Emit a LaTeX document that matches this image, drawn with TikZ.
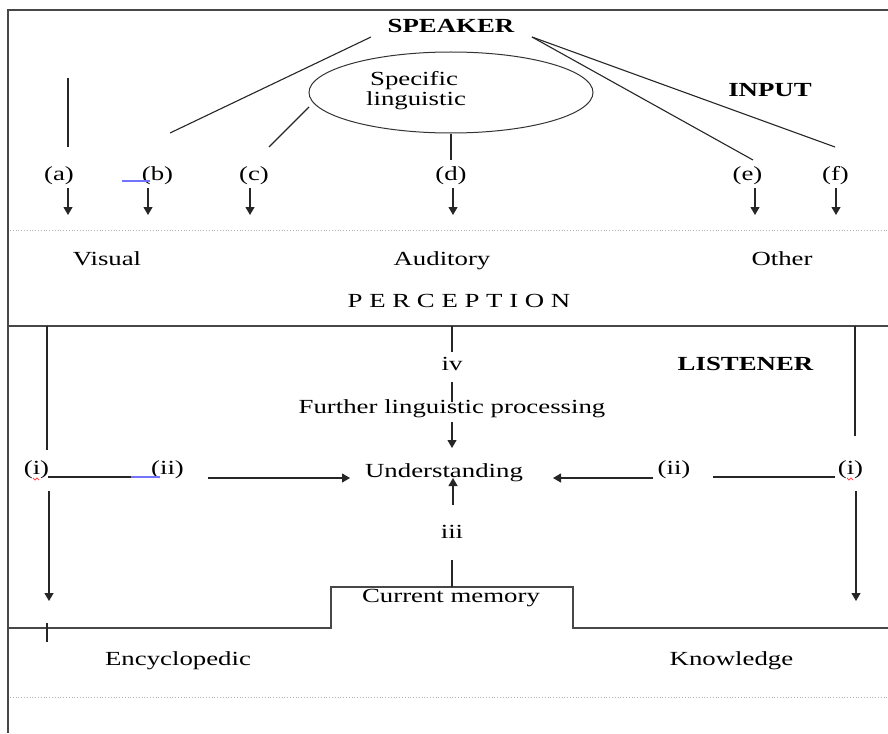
\documentclass[tikz,border=0pt]{standalone}
\usepackage{fontspec}
\setmainfont{Liberation Serif}[FakeStretch=1.34]
\usetikzlibrary{arrows.meta,shapes.geometric}
\begin{document}
\begin{tikzpicture}[x=1pt,y=-1pt,
  line width=1.1pt,
  txt/.style={inner sep=0pt, anchor=base, font=\fontsize{20}{18}\selectfont},
  bld/.style={inner sep=0pt, anchor=base, font=\fontsize{20}{18}\selectfont\bfseries},
  arr/.style={-{Triangle[length=8pt,width=9pt]}},
  frameline/.style={draw=black!72, line width=1.4pt},
  dotline/.style={draw=black!30, dotted, line width=0.8pt},
  conn/.style={draw=black!85, line width=1.1pt},
  bluemark/.style={draw=blue!55!white, line width=1.3pt},
  redmark/.style={draw=red!70, line width=0.8pt}]
\useasboundingbox (0,0) rectangle (888,733);
\fill[white] (0,0) rectangle (888,733);

% frame and separators
\draw[frameline] (888,10) -- (8,10) -- (8,733);
\draw[frameline] (8,326) -- (888,326);
\draw[dotline] (10,230) -- (888,230);
\draw[dotline] (10,697) -- (888,697);
\draw[frameline] (8,628) -- (331,628) -- (331,587) -- (573,587) -- (573,628) -- (888,628);

% top texts
\node[bld] (speaker) at (451,33) {SPEAKER};
\node[bld] (input) at (770,97) {INPUT};
\node[draw=black!80, line width=1pt, ellipse, minimum width=284pt, minimum height=81pt, inner sep=0pt] (ell) at (451,92.5) {};
\node[txt] (spec1) at (414,86) {Specific};
\node[txt] (spec2) at (416,106) {linguistic};

% speaker lines
\coordinate (sl) at (371,37);
\coordinate (sr) at (532,37);
\coordinate (bend) at (170,133);
\coordinate (eend) at (753,160);
\coordinate (fend) at (835,147);
\draw[conn] (sl) -- (bend);
\draw[conn] (sr) -- (eend);
\draw[conn] (sr) -- (fend);
\coordinate (ctop) at (309,107);
\coordinate (cend) at (269,147);
\draw[conn] (ctop) -- (cend);
\coordinate (atop) at (68,78);
\coordinate (aend) at (68,147);
\draw[conn] (atop) -- (aend);
\coordinate (dend) at (451,160);
\draw[conn] (ell.south) -- (dend);

% labels a-f
\node[txt] (la) at (59,180) {(a)};
\node[txt] (lb) at (157.5,180) {(b)};
\node[txt] (lc) at (254,180) {(c)};
\node[txt] (ld) at (451,180) {(d)};
\node[txt] (le) at (747.5,180) {(e)};
\node[txt] (lf) at (835.5,180) {(f)};
\draw[bluemark] (122,181) -- (150,181);

\foreach \n/\x in {a/68,b/148,c/250,d/453,e/755,f/836}{
  \coordinate (\n0) at (\x,188);
  \coordinate (\n1) at (\x,215);
  \draw[conn,arr] (\n0) -- (\n1);
}

% perception
\node[txt] (visual) at (107,265) {Visual};
\node[txt] (auditory) at (442,265) {Auditory};
\node[txt] (other) at (782,265) {Other};
\node[txt] (perc) at (459,307) {P E R C E P T I O N};

% listener
\node[bld] (listener) at (745.5,370) {LISTENER};
\node[txt] (iv) at (452,370) {iv};
\node[txt] (further) at (452,413) {Further linguistic processing};
\node[txt] (und) at (444,477) {Understanding};
\node[txt] (iii) at (452,538) {iii};
\node[txt] (curmem) at (451,602) {Current memory};
\node[txt] (ency) at (178,665) {Encyclopedic};
\node[txt] (know) at (731.5,665) {Knowledge};

\coordinate (ivtop) at (452,326);
\coordinate (ivbot) at (452,352);
\draw[conn] (ivtop) -- (ivbot);
\coordinate (fl0) at (452,382);
\coordinate (fl1) at (452,402);
\draw[conn] (fl0) -- (fl1);
\coordinate (fa0) at (452,422);
\coordinate (fa1) at (452,448);
\draw[conn,arr] (fa0) -- (fa1);
\coordinate (ua0) at (453,505);
\coordinate (ua1) at (453,478);
\draw[conn,arr] (ua0) -- (ua1);
\coordinate (cm0) at (452,560);
\coordinate (cm1) at (452,587);
\draw[conn] (cm0) -- (cm1);

% left side
\node[txt] (li) at (36.5,474) {(i)};
\node[txt] (lii) at (167.5,474) {(ii)};
\coordinate (lv0) at (47,326);
\coordinate (lv1) at (47,450);
\draw[conn] (lv0) -- (lv1);
\coordinate (lh0) at (48,477);
\coordinate (lh1) at (160,477);
\draw[conn] (lh0) -- (lh1);
\draw[bluemark] (131,477) -- (160,477);
\draw[redmark] (33,478) -- (35,480) -- (37,478) -- (39,480);
\coordinate (la0) at (208,478);
\coordinate (la1) at (350,478);
\draw[conn,arr] (la0) -- (la1);
\coordinate (ld0) at (49,491);
\coordinate (ld1) at (49,601);
\draw[conn,arr] (ld0) -- (ld1);
\coordinate (tick0) at (47,623);
\coordinate (tick1) at (47,642);
\draw[conn] (tick0) -- (tick1);

% right side
\node[txt] (rii) at (674,474) {(ii)};
\node[txt] (ri) at (850.5,474) {(i)};
\coordinate (rv0) at (855,326);
\coordinate (rv1) at (855,436);
\draw[conn] (rv0) -- (rv1);
\coordinate (rh0) at (713,477);
\coordinate (rh1) at (835,477);
\draw[conn] (rh0) -- (rh1);
\draw[redmark] (847,478) -- (849,480) -- (851,478) -- (853,480);
\coordinate (ra0) at (653,478);
\coordinate (ra1) at (553,478);
\draw[conn,arr] (ra0) -- (ra1);
\coordinate (rd0) at (856,491);
\coordinate (rd1) at (856,601);
\draw[conn,arr] (rd0) -- (rd1);
\end{tikzpicture}
\end{document}
